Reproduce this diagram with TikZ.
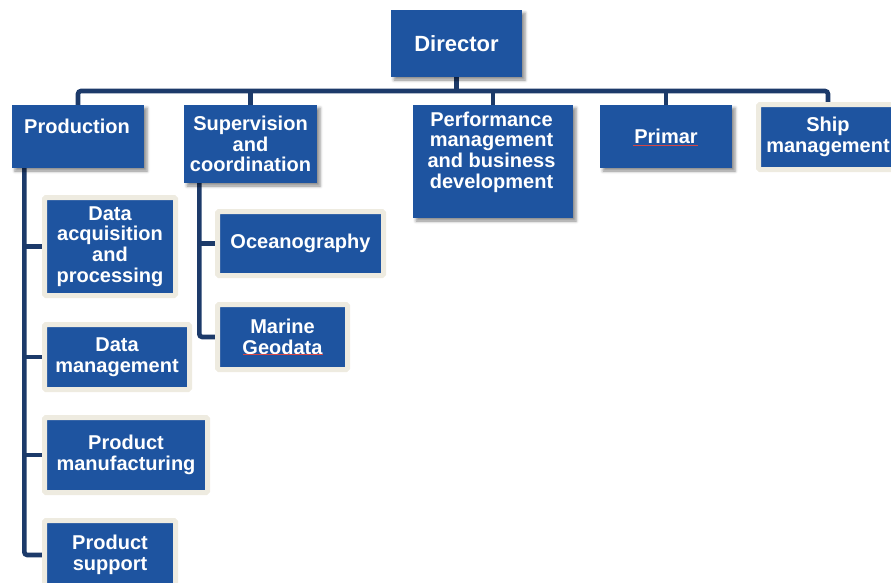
\documentclass[tikz,border=0pt]{standalone}
\usepackage{fontspec}
\setmainfont{Liberation Sans}
\usetikzlibrary{shadows.blur}
\definecolor{boxblue}{RGB}{30,84,160}
\definecolor{linknavy}{RGB}{28,58,106}
\definecolor{framebeige}{RGB}{238,235,224}
\definecolor{spellred}{RGB}{214,70,70}
\pgfdeclarelayer{links}
\pgfsetlayers{links,main}
\tikzset{
  txt/.style={text=white, font=\fontsize{20}{20.7}\selectfont\bfseries, align=center, inner sep=0pt},
  unit/.style={txt, fill=boxblue, inner sep=0pt,
    blur shadow={shadow xshift=3pt, shadow yshift=-3pt, shadow blur radius=3pt, shadow opacity=45}},
  team/.style={txt, fill=boxblue, draw=framebeige, line width=5pt, rounded corners=1.5pt, inner sep=0pt},
  conn/.style={draw=linknavy, line width=4.6pt, rounded corners=3pt},
  spell/.style={draw=spellred, line width=0.8pt},
}
\begin{document}
\begin{tikzpicture}[x=1pt,y=-1pt]
\useasboundingbox (0,0) rectangle (891,582);

% top level
\node[unit, minimum width=131pt, minimum height=67pt, font=\fontsize{22}{24}\selectfont\bfseries] (dir) at (456.5,43.5) {Director};

% departments
\node[unit, minimum width=132pt, minimum height=63pt] (prod) at (78,136.5) {};
\node[txt] (prodlbl) at (77,126.5) {Production};
\node[unit, minimum width=133pt, minimum height=78pt] (sup) at (250.5,144) {Supervision\\and\\coordination};
\node[unit, minimum width=160pt, minimum height=113pt] (perf) at (493,161.5) {};
\node[txt] (perflbl) at (491.5,152) {Performance\\management\\and business\\development};
\node[unit, minimum width=132pt, minimum height=63pt] (primar) at (666,136.5) {Primar};
\node[team, minimum width=139pt, minimum height=65pt] (ship) at (828,137) {Ship\\management};

% production teams
\node[team, minimum width=131pt, minimum height=98pt] (dacq) at (110,246.5) {Data\\acquisition\\and\\processing};
\node[team, minimum width=145pt, minimum height=65pt] (dmgmt) at (117,357) {Data\\management};
\node[team, minimum width=163pt, minimum height=75pt] (pmanuf) at (126,455) {Product\\manufacturing};
\node[team, minimum width=131pt, minimum height=69pt] (psupport) at (110,555) {Product\\support};

% supervision teams
\node[team, minimum width=166pt, minimum height=64pt] (ocean) at (300.5,243.5) {Oceanography};
\node[team, minimum width=130pt, minimum height=65pt] (geodata) at (282.5,337) {Marine\\Geodata};

% spell-check marks under two names
\draw[spell] (633,145.5) -- (698,145.5);
\draw[spell] (243,354.5) -- (323,354.5);

% connectors
\coordinate (bus) at (0,91);
\coordinate (ptrunk) at ([xshift=12.5pt]prod.south west);
\coordinate (strunk) at ([xshift=15.5pt]sup.south west);
\begin{pgfonlayer}{links}
  \draw[conn] (prod.north) |- (bus -| ship.north) -- (ship.north);
  \draw[conn] (dir.south) -- (dir.south |- bus);
  \foreach \n in {sup,perf,primar}
    \draw[conn] (\n.north) -- (\n.north |- bus);
  \draw[conn] (ptrunk) |- (psupport.west);
  \foreach \n in {dacq,dmgmt,pmanuf}
    \draw[conn] (ptrunk |- \n.west) -- (\n.west);
  \draw[conn] (strunk) |- (geodata.west);
  \draw[conn] (strunk |- ocean.west) -- (ocean.west);
\end{pgfonlayer}
\end{tikzpicture}
\end{document}
